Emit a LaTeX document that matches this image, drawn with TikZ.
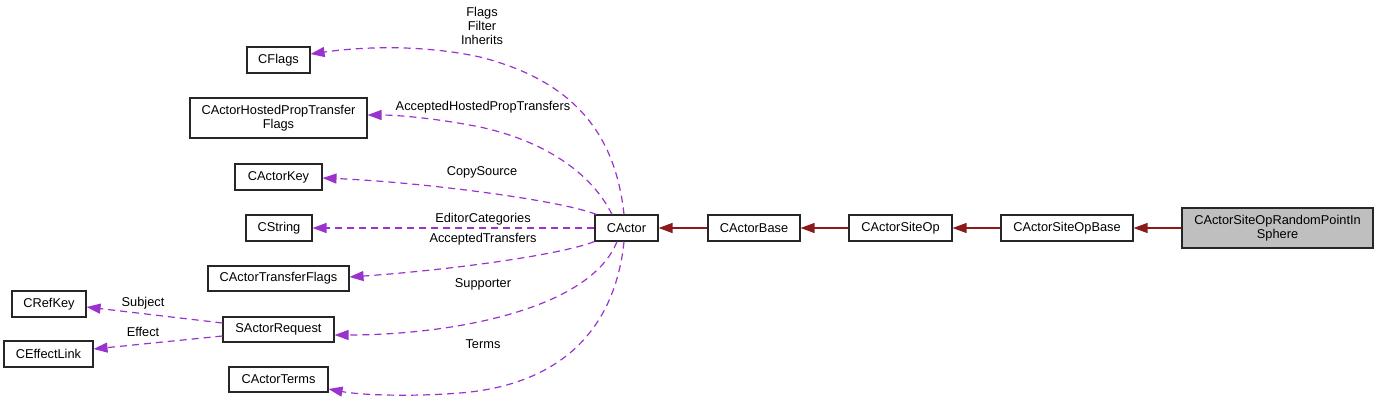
\documentclass[tikz,border=0pt]{standalone}
\usepackage{fontspec}
\setmainfont{Liberation Sans}
\usetikzlibrary{arrows.meta}
\definecolor{edgepurple}{HTML}{9A32CD}
\definecolor{edgered}{HTML}{8B1A1A}
\definecolor{boxgray}{HTML}{BFBFBF}
\tikzset{
  cls/.style={draw=black!85, line width=1.1pt, rectangle, inner sep=0pt, align=center,
    font=\fontsize{12.8}{14.5}\selectfont},
  usage/.style={draw=edgepurple, line width=1.2pt, dash pattern=on 7pt off 5pt,
    -{Triangle[length=14pt,width=10pt,fill=edgepurple]}},
  inherit/.style={draw=edgered, line width=1.2pt,
    -{Triangle[length=14pt,width=10pt,fill=edgered]}},
  lbl/.style={font=\fontsize{12.8}{14}\selectfont, inner sep=0pt, align=center}
}
\begin{document}
\begin{tikzpicture}[x=1pt,y=-1pt]
\useasboundingbox (0,0) rectangle (1379,402);
% nodes
\node[cls, minimum width=63pt, minimum height=26pt] (cflags) at (278.5,60) {CFlags};
\node[cls, minimum width=177pt, minimum height=40pt] (cahptf) at (278.5,118) {CActorHostedPropTransfer\\Flags};
\node[cls, minimum width=87pt, minimum height=26pt] (ckey) at (278.5,177) {CActorKey};
\node[cls, minimum width=66pt, minimum height=26pt] (cstring) at (279,228) {CString};
\node[cls, minimum width=141pt, minimum height=25pt] (catf) at (278.5,278.5) {CActorTransferFlags};
\node[cls, minimum width=111pt, minimum height=25pt] (sreq) at (278.5,329.5) {SActorRequest};
\node[cls, minimum width=99pt, minimum height=25pt] (cterms) at (278.5,379.5) {CActorTerms};
\node[cls, minimum width=74pt, minimum height=26pt] (crefkey) at (49,304) {CRefKey};
\node[cls, minimum width=89pt, minimum height=26pt] (ceffect) at (48.5,354) {CEffectLink};
\node[cls, minimum width=63pt, minimum height=26pt] (cactor) at (626.5,228) {CActor};
\node[cls, minimum width=92pt, minimum height=26pt] (cbase) at (754,228) {CActorBase};
\node[cls, minimum width=103pt, minimum height=26pt] (csiteop) at (900.5,228) {CActorSiteOp};
\node[cls, minimum width=132pt, minimum height=26pt] (csiteopbase) at (1067,228) {CActorSiteOpBase};
\node[cls, fill=boxgray, minimum width=191pt, minimum height=40pt] (crandom) at (1277.5,228) {CActorSiteOpRandomPointIn\\Sphere};
% inheritance
\draw[inherit] (crandom.west) -- (csiteopbase.east);
\draw[inherit] (csiteopbase.west) -- (csiteop.east);
\draw[inherit] (csiteop.west) -- (cbase.east);
\draw[inherit] (cbase.west) -- (cactor.east);
% usage
\coordinate (a1) at ([xshift=-2.5pt]cactor.north);
\coordinate (a2) at ([xshift=-14.5pt]cactor.north);
\coordinate (a3) at ([xshift=2pt]cactor.north west);
\coordinate (a5) at ([xshift=0pt]cactor.south west);
\coordinate (a6) at ([xshift=-9.5pt]cactor.south);
\coordinate (a7) at ([xshift=-2.5pt]cactor.south);
\draw[usage] (a1) .. controls (615,130) and (570,80) .. (480,57)
  .. controls (420,44) and (360,47) .. (cflags.east |- 0,54);
\draw[usage] (a2) .. controls (590,170) and (540,140) .. (480,127)
  .. controls (440,119) and (400,115) .. (cahptf.east |- 0,115);
\draw[usage] (a3) .. controls (560,200) and (420,182) .. (ckey.east |- 0,178);
\draw[usage] (cactor.west) -- (cstring.east);
\draw[usage] (a5) .. controls (560,255) and (450,270) .. (catf.east |- 0,277);
\draw[usage] (a6) .. controls (590,310) and (450,335) .. (sreq.east |- 0,335);
\draw[usage] (a7) .. controls (615,330) and (560,385) .. (460,393)
  .. controls (410,397) and (360,395) .. (cterms.east |- 0,389);
\draw[usage] (sreq.west |- 0,323) -- (crefkey.east |- 0,307);
\draw[usage] (sreq.west |- 0,336) -- (ceffect.east |- 0,349);
% labels
\node[lbl] (l1) at (482,26) {Flags\\Filter\\Inherits};
\node[lbl] (l2) at (483,107) {AcceptedHostedPropTransfers};
\node[lbl] (l3) at (482,172) {CopySource};
\node[lbl] (l4) at (483,219) {EditorCategories};
\node[lbl] (l5) at (483,239) {AcceptedTransfers};
\node[lbl] (l6) at (483,284) {Supporter};
\node[lbl] (l7) at (483,344) {Terms};
\node[lbl] (l8) at (143,303) {Subject};
\node[lbl] (l9) at (143,332) {Effect};
\end{tikzpicture}
\end{document}
